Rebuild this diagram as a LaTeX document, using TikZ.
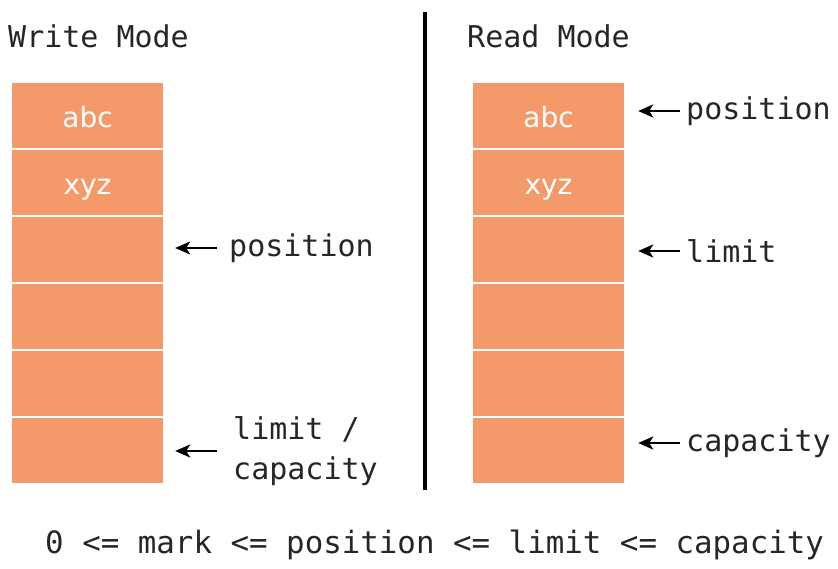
\documentclass[tikz,border=0pt]{standalone}
\usepackage{fontspec}
\setmonofont{DejaVu Sans Mono}
\setsansfont{DejaVu Sans}
\usetikzlibrary{arrows.meta}
\definecolor{cell}{HTML}{F4996A}
\begin{document}
\begin{tikzpicture}[x=1pt,y=-1pt,
  cellbox/.style={fill=cell,draw=none,minimum width=151pt,minimum height=65pt,inner sep=0pt,
    text height=26pt,text depth=2pt,
    text=white,font=\sffamily\fontsize{28}{32}\selectfont},
  mono/.style={inner sep=0pt,font=\ttfamily\fontsize{30}{40}\selectfont,text=black!85},
  arr/.style={-{Stealth[length=15pt,width=13pt,inset=4pt]},line width=2.5pt,black}]
\useasboundingbox (0,0) rectangle (838,569);
% titles
\node[mono,anchor=base west] (tw) at (8,48) {Write Mode};
\node[mono,anchor=base west] (tr) at (467,48) {Read Mode};
% divider
\coordinate (d1) at (425,12);
\coordinate (d2) at (425,490);
\draw[line width=4pt] (d1) -- (d2);
% cells
\foreach \i/\t in {1/abc,2/xyz,3/,4/,5/,6/} {
  \node[cellbox] (w\i) at (87.5,{115.5+67*(\i-1)}) {\t};
  \node[cellbox] (r\i) at (548.5,{115.5+67*(\i-1)}) {\t};
}
% write labels
\node[mono,anchor=west] (wpos) at (229,248) {position};
\draw[arr] ([xshift=-12pt]wpos.west) -- ([xshift=12pt]w3.east |- wpos.west);
\node[mono,anchor=west,align=left] (wlim) at (233,451) {limit /\\capacity};
\draw[arr] ([xshift=-16pt]wlim.west) -- ([xshift=12pt]w6.east |- wlim.west);
% read labels
\node[mono,anchor=west] (rpos) at (686,111) {position};
\draw[arr] ([xshift=-6pt]rpos.west) -- ([xshift=14pt]r1.east |- rpos.west);
\node[mono,anchor=west] (rlim) at (686,251) {limit};
\draw[arr] ([xshift=-6pt]rlim.west) -- ([xshift=14pt]r3.east |- rlim.west);
\node[mono,anchor=west] (rcap) at (686,443) {capacity};
\draw[arr] ([xshift=-6pt]rcap.west) -- ([xshift=14pt]r6.east |- rcap.west);
% bottom
\node[mono,anchor=west,font=\ttfamily\fontsize{30.8}{40}\selectfont] (inv) at (45,545) {0 <= mark <= position <= limit <= capacity};
\end{tikzpicture}
\end{document}
